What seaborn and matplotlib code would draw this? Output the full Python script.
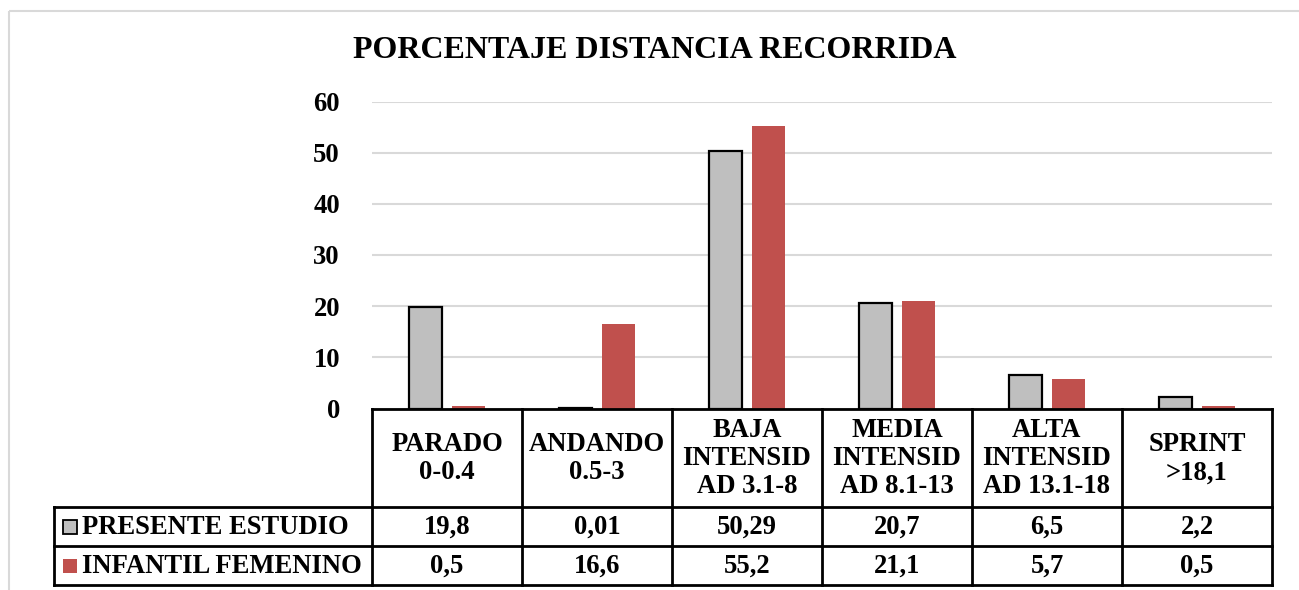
import matplotlib
matplotlib.use("Agg")
import matplotlib.pyplot as plt
from matplotlib.patches import Rectangle
import pandas as pd
import seaborn as sns

# ---- data -------------------------------------------------------------
categories = ["PARADO\n0-0.4", "ANDANDO\n0.5-3", "BAJA\nINTENSID\nAD 3.1-8",
              "MEDIA\nINTENSID\nAD 8.1-13", "ALTA\nINTENSID\nAD 13.1-18",
              "SPRINT\n>18,1"]
series_names = ["PRESENTE ESTUDIO", "INFANTIL FEMENINO"]
presente = [19.8, 0.01, 50.29, 20.7, 6.5, 2.2]
infantil = [0.5, 16.6, 55.2, 21.1, 5.7, 0.5]
presente_labels = ["19,8", "0,01", "50,29", "20,7", "6,5", "2,2"]
infantil_labels = ["0,5", "16,6", "55,2", "21,1", "5,7", "0,5"]
yticks = [0, 10, 20, 30, 40, 50, 60]
title = "PORCENTAJE DISTANCIA RECORRIDA"

colors = ["#bfbfbf", "#c0504d"]
grid_color = "#d9d9d9"

df = pd.DataFrame({
    "cat": categories * 2,
    "serie": [series_names[0]] * 6 + [series_names[1]] * 6,
    "val": presente + infantil,
})

# ---- figure / layout (pixel units) -------------------------------------
W, H, DPI = 1299, 590, 100
sns.set_theme(style="white")
plt.rcParams["font.family"] = ["Liberation Serif", "DejaVu Serif"]
plt.rcParams["font.weight"] = "bold"
plt.rcParams["text.color"] = "black"
plt.rcParams["ytick.color"] = "black"
plt.rcParams["ytick.labelcolor"] = "black"

fig = plt.figure(figsize=(W / DPI, H / DPI), dpi=DPI)
fig.patch.set_facecolor("white")

left, right = 372, 1272
top, bottom = 101.5, 408.5
ax = fig.add_axes([left / W, 1 - bottom / H, (right - left) / W, (bottom - top) / H])

sns.barplot(data=df, x="cat", y="val", hue="serie", order=categories,
            hue_order=series_names, palette=colors, width=0.573, gap=0.21,
            edgecolor="black", linewidth=1.6, legend=False, ax=ax,
            saturation=1)
for p in ax.containers[1]:
    p.set_edgecolor("none")
    p.set_linewidth(0)

fs = 19.2
ax.set_xlim(-0.5, 5.5)
ax.set_ylim(0, 60)
ax.set_yticks(yticks)
ax.set_yticklabels([str(t) for t in yticks], fontsize=fs, fontweight="bold",
                   color="black")
ax.tick_params(axis="y", length=0, pad=23)
ax.set_xticks([])
ax.set_xlabel("")
ax.set_ylabel("")
ax.grid(axis="y", color=grid_color, linewidth=1.5)
ax.set_axisbelow(True)
for s in ["left", "right", "top"]:
    ax.spines[s].set_visible(False)
ax.spines["bottom"].set_color("black")
ax.spines["bottom"].set_linewidth(2)
ax.patch.set_alpha(0)

# ---- overlay in pixel coordinates for frame, title and data table -------
ov = fig.add_axes([0, 0, 1, 1], zorder=-1)
ov.set_xlim(0, W)
ov.set_ylim(H, 0)
ov.axis("off")
ov2 = fig.add_axes([0, 0, 1, 1], zorder=5)
ov2.set_xlim(0, W)
ov2.set_ylim(H, 0)
ov2.axis("off")
ov2.patch.set_alpha(0)

# outer chart frame
ov.add_patch(Rectangle((9, 11), W + 20, H + 20, fill=False,
                       edgecolor=grid_color, linewidth=1.5))

ov2.text(655, 51, title, ha="center", va="center", fontsize=23,
         fontweight="bold", color="black")

colw = (right - left) / len(categories)
row_top, row1, row2, row_end = bottom, 507, 546, 585
tab_left = 54
lw = 2

# vertical lines of the category columns
for i in range(len(categories) + 1):
    x = left + i * colw
    ov2.plot([x, x], [row_top, row_end], color="black", lw=lw,
             solid_capstyle="projecting")
# horizontal lines
for y in [row1, row2, row_end]:
    ov2.plot([tab_left, right], [y, y], color="black", lw=lw,
             solid_capstyle="projecting")
ov2.plot([tab_left, tab_left], [row1, row_end], color="black", lw=lw,
         solid_capstyle="projecting")

for i, cat in enumerate(categories):
    cx = left + (i + 0.5) * colw
    ov2.text(cx, (row_top + row1) / 2 + 1, cat, ha="center", va="center",
             fontsize=fs, fontweight="bold", linespacing=1.17)
    ov2.text(cx, (row1 + row2) / 2 + 1, presente_labels[i], ha="center",
             va="center", fontsize=fs, fontweight="bold")
    ov2.text(cx, (row2 + row_end) / 2 + 1, infantil_labels[i], ha="center",
             va="center", fontsize=fs, fontweight="bold")

# series keys and names
rows_y = [(row1 + row2) / 2, (row2 + row_end) / 2]
for k, name in enumerate(series_names):
    yc = rows_y[k]
    ec = "black" if k == 0 else "none"
    ov2.add_patch(Rectangle((63, yc - 7), 14, 14, facecolor=colors[k],
                            edgecolor=ec, linewidth=1.3))
    ov2.text(82, yc + 1, name, ha="left", va="center", fontsize=fs,
             fontweight="bold")

fig.savefig("out.png", dpi=DPI, facecolor="white")
